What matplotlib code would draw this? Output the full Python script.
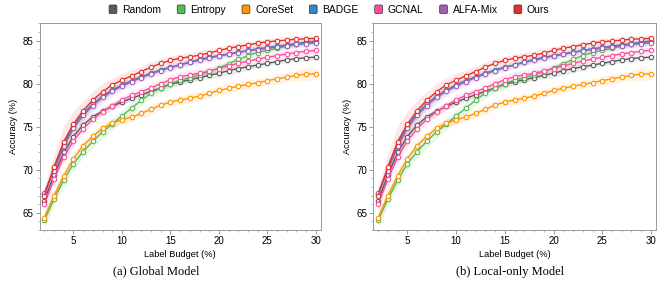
import matplotlib
matplotlib.use("Agg")
import matplotlib.pyplot as plt
from matplotlib.patches import FancyBboxPatch, Patch
from matplotlib.legend_handler import HandlerPatch
import matplotlib.ticker as mticker
import numpy as np

plt.rcParams.update({
    "font.family": "sans-serif",
    "font.sans-serif": ["Liberation Sans", "DejaVu Sans"],
    "font.size": 6.5,
    "axes.linewidth": 0.7,
    "axes.edgecolor": "#999999",
    "xtick.color": "#999999",
    "ytick.color": "#999999",
    "xtick.labelcolor": "black",
    "ytick.labelcolor": "black",
})

# ── Data ──
budget = list(range(2, 31))

methods = ["Random", "Entropy", "CoreSet", "BADGE", "GCNAL", "ALFA-Mix", "Ours"]
colors = ["#5a5a5a", "#57b952", "#ff9500", "#3a84c3", "#ff4d9d", "#a35db5", "#e8302a"]

random_acc = [66.4, 69.4, 72.0, 73.85, 75.2, 76.15, 76.8, 77.35, 77.85, 78.3, 78.7, 79.1,
              79.5, 79.9, 80.2, 80.45, 80.7, 80.95, 81.2, 81.5, 81.75, 81.95, 82.15,
              82.35, 82.55, 82.75, 82.9, 83.0, 83.07]
entropy_acc = [64.15, 66.6, 68.8, 70.7, 72.1, 73.3, 74.4, 75.3, 76.25, 77.15, 78.05, 78.9,
               79.5, 80.0, 80.4, 80.7, 81.0, 81.4, 81.8, 82.3, 82.8, 83.25, 83.6, 83.85,
               84.1, 84.35, 84.55, 84.7, 84.8]
coreset_acc = [64.45, 67.0, 69.3, 71.3, 72.8, 73.9, 74.8, 75.4, 75.8, 76.1, 76.55, 77.0,
               77.5, 77.85, 78.1, 78.3, 78.55, 78.85, 79.2, 79.45, 79.7, 79.9, 80.1,
               80.35, 80.55, 80.75, 80.95, 81.1, 81.15]
badge_acc = [67.2, 70.1, 73.05, 75.05, 76.55, 77.65, 78.55, 79.25, 79.85, 80.35, 80.8,
             81.2, 81.6, 81.9, 82.2, 82.5, 82.8, 83.05, 83.25, 83.45, 83.65, 83.85, 84.05,
             84.2, 84.35, 84.5, 84.65, 84.8, 84.95]
gcnal_acc = [66.0, 68.9, 71.45, 73.35, 74.75, 75.85, 76.75, 77.45, 78.1, 78.65, 79.05,
             79.5, 80.0, 80.45, 80.8, 81.0, 81.2, 81.45, 81.75, 82.05, 82.35, 82.6, 82.85,
             83.05, 83.25, 83.45, 83.6, 83.75, 83.85]
alfamix_acc = [67.3, 69.9, 72.7, 74.8, 76.3, 77.45, 78.4, 79.1, 79.7, 80.2, 80.7, 81.1,
               81.5, 81.85, 82.15, 82.45, 82.7, 82.95, 83.2, 83.4, 83.6, 83.8, 83.95,
               84.1, 84.25, 84.4, 84.55, 84.65, 84.75]
ours_acc = [67.0, 70.35, 73.25, 75.3, 76.85, 78.1, 79.05, 79.85, 80.4, 80.9, 81.4, 81.9,
            82.35, 82.7, 82.95, 83.1, 83.3, 83.55, 83.85, 84.1, 84.3, 84.5, 84.7, 84.85,
            84.95, 85.05, 85.15, 85.2, 85.25]

# half-width of the shaded bands
random_std = [0.5, 0.5, 0.5, 0.5, 0.4, 0.4, 0.4, 0.4, 0.4, 0.3, 0.3, 0.3, 0.3, 0.3, 0.3,
              0.3, 0.3, 0.4, 0.5, 0.5, 0.5, 0.4, 0.3, 0.3, 0.3, 0.3, 0.3, 0.3, 0.3]
entropy_std = [0.9, 0.8, 0.8, 0.7, 0.7, 0.8, 0.8, 0.7, 0.7, 0.7, 0.6, 0.6, 0.6, 0.6, 0.5,
               0.5, 0.5, 0.4, 0.4, 0.4, 0.4, 0.4, 0.4, 0.4, 0.3, 0.3, 0.3, 0.3, 0.3]
coreset_std = [0.8, 0.7, 0.6, 0.6, 0.6, 0.5, 0.5, 0.5, 0.5, 0.5, 0.5, 0.6, 0.5, 0.5, 0.5,
               0.6, 0.5, 0.5, 0.5, 0.6, 0.5, 0.5, 0.5, 0.5, 0.6, 0.5, 0.6, 0.8, 0.6]
badge_std = [0.5, 0.6, 0.6, 0.5, 0.5, 0.4, 0.4, 0.4, 0.4, 0.3, 0.3, 0.3, 0.3, 0.3, 0.3,
             0.3, 0.3, 0.3, 0.3, 0.3, 0.3, 0.3, 0.3, 0.3, 0.3, 0.3, 0.3, 0.3, 0.3]
gcnal_std = [0.6, 0.7, 0.7, 0.6, 0.6, 0.5, 0.5, 0.5, 0.5, 0.5, 0.5, 0.5, 0.6, 0.6, 0.6,
             0.6, 0.6, 0.5, 0.5, 0.5, 0.4, 0.4, 0.4, 0.4, 0.4, 0.4, 0.4, 0.4, 0.4]
alfamix_std = [0.7, 0.9, 1.0, 0.9, 0.9, 0.8, 0.7, 0.6, 0.5, 0.5, 0.4, 0.4, 0.4, 0.4, 0.4,
               0.4, 0.4, 0.4, 0.4, 0.4, 0.4, 0.4, 0.4, 0.4, 0.4, 0.4, 0.4, 0.4, 0.4]
ours_std = [1.0, 1.5, 1.8, 1.5, 1.2, 1.0, 1.0, 0.8, 0.8, 0.7, 0.6, 0.6, 0.6, 0.5, 0.5,
            0.5, 0.5, 0.5, 0.4, 0.4, 0.4, 0.4, 0.4, 0.4, 0.4, 0.4, 0.4, 0.4, 0.35]

accs = [random_acc, entropy_acc, coreset_acc, badge_acc, gcnal_acc, alfamix_acc, ours_acc]
stds = [random_std, entropy_std, coreset_std, badge_std, gcnal_std, alfamix_std, ours_std]

captions = ["(a) Global Model", "(b) Local-only Model"]


class RoundBoxHandler(HandlerPatch):
    def create_artists(self, legend, orig_handle, xdescent, ydescent,
                       width, height, fontsize, trans):
        p = FancyBboxPatch((-xdescent, -ydescent), width, height,
                           boxstyle="round,pad=0,rounding_size=1.0",
                           facecolor=orig_handle.get_facecolor(),
                           edgecolor="#333333", linewidth=0.5,
                           transform=trans)
        return [p]


def draw_panel(ax, caption, cap_x):
    x = np.array(budget)
    for name, c, acc, sd in zip(methods, colors, accs, stds):
        acc = np.array(acc)
        sd = np.array(sd)
        ax.fill_between(x, acc - sd, acc + sd, color=c, alpha=0.11, linewidth=0)
        ax.plot(x, acc, color=c, lw=1.0, marker="o", markersize=3.2,
                markerfacecolor="white", markeredgecolor=c, markeredgewidth=0.8)

    ax.set_xlim(1.5, 30.5)
    ax.set_ylim(63, 87)
    ax.xaxis.set_major_locator(mticker.MultipleLocator(5))
    ax.xaxis.set_minor_locator(mticker.MultipleLocator(1))
    ax.yaxis.set_major_locator(mticker.FixedLocator([65, 70, 75, 80, 85]))
    ax.yaxis.set_minor_locator(mticker.MultipleLocator(1))
    ax.tick_params(which="major", length=3, width=0.7, pad=1.5, labelsize=7)
    ax.tick_params(which="minor", length=1.5, width=0.5)
    ax.set_xlabel("Label Budget (%)", fontsize=6.7, labelpad=3)
    ax.set_ylabel("Accuracy (%)", fontsize=6.7, labelpad=3)
    ax.figure.text(cap_x, 0.04, caption, ha="center", va="center",
                   family="Liberation Serif", fontsize=9)


fig = plt.figure(figsize=(6.64, 2.83), dpi=100)
fig.set_facecolor("white")
ax1 = fig.add_axes([0.0595, 0.1873, 0.4235, 0.7304])
ax2 = fig.add_axes([0.5622, 0.1873, 0.4255, 0.7304])
draw_panel(ax1, captions[0], 156 / 664)
draw_panel(ax2, captions[1], 510 / 664)

handles = [Patch(facecolor=c, label=m) for m, c in zip(methods, colors)]
fig.legend(handles=handles, loc="center", bbox_to_anchor=(0.496, 0.965), ncol=7,
           frameon=False, fontsize=7.5, handlelength=0.75, handleheight=0.9,
           handletextpad=0.5, columnspacing=1.55,
           handler_map={Patch: RoundBoxHandler()})

fig.savefig("out.png", dpi=100)
